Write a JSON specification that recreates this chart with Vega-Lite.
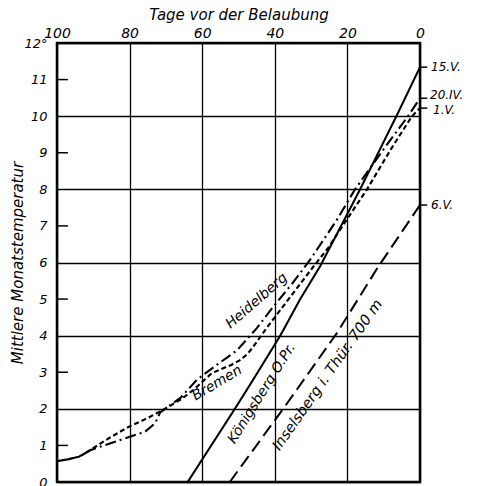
{
  "$schema": "https://vega.github.io/schema/vega-lite/v6.json",
  "width": 363,
  "height": 439,
  "autosize": {"type": "none"},
  "padding": {"left": 57, "top": 43, "right": 59, "bottom": 4},
  "background": "white",
  "config": {
    "view": {"stroke": "black", "strokeWidth": 2.5},
    "font": "DejaVu Sans",
    "axis": {"labelOverlap": false, "labelFlush": false},
    "text": {"font": "DejaVu Sans", "fontStyle": "italic", "color": "black"}
  },
  "datasets": {
    "curves": [
      {"series": "shared", "day": 100, "temp": 0.57},
      {"series": "shared", "day": 97, "temp": 0.62},
      {"series": "shared", "day": 94, "temp": 0.69},
      {"series": "shared", "day": 92, "temp": 0.8},
      {"series": "Bremen", "day": 92, "temp": 0.8},
      {"series": "Bremen", "day": 86, "temp": 1.18},
      {"series": "Bremen", "day": 80.4, "temp": 1.5},
      {"series": "Bremen", "day": 75, "temp": 1.75},
      {"series": "Bremen", "day": 70.8, "temp": 1.97},
      {"series": "Bremen", "day": 66, "temp": 2.25},
      {"series": "Bremen", "day": 62.5, "temp": 2.51},
      {"series": "Bremen", "day": 57.3, "temp": 2.98},
      {"series": "Bremen", "day": 52, "temp": 3.2},
      {"series": "Bremen", "day": 49.6, "temp": 3.33},
      {"series": "Bremen", "day": 47.5, "temp": 3.5},
      {"series": "Bremen", "day": 46, "temp": 3.69},
      {"series": "Bremen", "day": 42.1, "temp": 4.23},
      {"series": "Bremen", "day": 35.8, "temp": 5.05},
      {"series": "Bremen", "day": 29.5, "temp": 5.87},
      {"series": "Bremen", "day": 25.3, "temp": 6.4},
      {"series": "Bremen", "day": 22, "temp": 6.9},
      {"series": "Bremen", "day": 14.6, "temp": 8},
      {"series": "Bremen", "day": 8, "temp": 9.1},
      {"series": "Bremen", "day": 2.2, "temp": 10},
      {"series": "Bremen", "day": 0, "temp": 10.22},
      {"series": "Heidelberg", "day": 92, "temp": 0.8},
      {"series": "Heidelberg", "day": 90.9, "temp": 0.87},
      {"series": "Heidelberg", "day": 83.5, "temp": 1.12},
      {"series": "Heidelberg", "day": 75.8, "temp": 1.37},
      {"series": "Heidelberg", "day": 73, "temp": 1.6},
      {"series": "Heidelberg", "day": 71.6, "temp": 1.9},
      {"series": "Heidelberg", "day": 66, "temp": 2.3},
      {"series": "Heidelberg", "day": 61.4, "temp": 2.8},
      {"series": "Heidelberg", "day": 56, "temp": 3.2},
      {"series": "Heidelberg", "day": 50.4, "temp": 3.6},
      {"series": "Heidelberg", "day": 45, "temp": 4.2},
      {"series": "Heidelberg", "day": 40.5, "temp": 4.78},
      {"series": "Heidelberg", "day": 35, "temp": 5.45},
      {"series": "Heidelberg", "day": 30.3, "temp": 6.07},
      {"series": "Heidelberg", "day": 23, "temp": 7.15},
      {"series": "Heidelberg", "day": 17.9, "temp": 8},
      {"series": "Heidelberg", "day": 10, "temp": 9.1},
      {"series": "Heidelberg", "day": 3.3, "temp": 10},
      {"series": "Heidelberg", "day": 0, "temp": 10.49},
      {"series": "Königsberg", "day": 64, "temp": 0},
      {"series": "Königsberg", "day": 57.5, "temp": 1},
      {"series": "Königsberg", "day": 51, "temp": 2},
      {"series": "Königsberg", "day": 46, "temp": 2.79},
      {"series": "Königsberg", "day": 38.5, "temp": 4},
      {"series": "Königsberg", "day": 33, "temp": 5},
      {"series": "Königsberg", "day": 27.5, "temp": 5.9},
      {"series": "Königsberg", "day": 22, "temp": 6.95},
      {"series": "Königsberg", "day": 16.5, "temp": 8},
      {"series": "Königsberg", "day": 6.5, "temp": 10},
      {"series": "Königsberg", "day": 0, "temp": 11.34},
      {"series": "Inselsberg", "day": 52.4, "temp": 0},
      {"series": "Inselsberg", "day": 37.7, "temp": 2},
      {"series": "Inselsberg", "day": 22.9, "temp": 4.07},
      {"series": "Inselsberg", "day": 11.6, "temp": 5.87},
      {"series": "Inselsberg", "day": 0, "temp": 7.57}
    ],
    "dates": [
      {"day": 0, "temp": 11.34, "date": "15.V."},
      {"day": 0, "temp": 10.49, "date": "20.IV."},
      {"day": 0, "temp": 10.22, "date": "1.V."},
      {"day": 0, "temp": 7.57, "date": "6.V."}
    ],
    "oddTicks": [
      {"temp": 1}, {"temp": 3}, {"temp": 5}, {"temp": 7}, {"temp": 9}, {"temp": 11}
    ]
  },
  "layer": [
    {
      "data": {"name": "curves"},
      "mark": {"type": "line", "color": "black", "strokeCap": "butt", "clip": true},
      "encoding": {
        "x": {
          "field": "day",
          "type": "quantitative",
          "scale": {"domain": [100, 0], "nice": false, "zero": false},
          "axis": {
            "orient": "top",
            "values": [100, 80, 60, 40, 20, 0],
            "tickCount": 20,
            "format": "d",
            "grid": true,
            "gridColor": "black",
            "gridOpacity": 1,
            "gridWidth": 1.3,
            "ticks": false,
            "domain": false,
            "labelFlush": false,
            "labelOverlap": false,
            "labelFont": "DejaVu Sans",
            "labelFontStyle": "italic",
            "labelFontSize": 14,
            "labelColor": "black",
            "labelPadding": 3,
            "title": "Tage vor der Belaubung",
            "titleFont": "DejaVu Sans",
            "titleFontStyle": "italic",
            "titleFontWeight": "normal",
            "titleFontSize": 15,
            "titleColor": "black",
            "titlePadding": 4
          }
        },
        "y": {
          "field": "temp",
          "type": "quantitative",
          "scale": {"domain": [0, 12], "nice": false},
          "axis": {
            "values": [0, 1, 2, 3, 4, 5, 6, 7, 8, 9, 10, 11, 12],
            "tickCount": 20,
            "format": "d",
            "grid": true,
            "gridColor": "black",
            "gridWidth": 1.3,
            "gridOpacity": {"condition": {"test": "datum.value % 2 === 1", "value": 0}, "value": 1},
            "ticks": false,
            "domain": false,
            "labelFlush": false,
            "labelOverlap": false,
            "labelExpr": "datum.value == 12 ? '12°' : datum.label",
            "labelFont": "DejaVu Sans",
            "labelFontStyle": "italic",
            "labelFontSize": 13,
            "labelColor": "black",
            "labelPadding": 10,
            "title": "Mittlere Monatstemperatur",
            "titleFont": "DejaVu Sans",
            "titleFontStyle": "italic",
            "titleFontWeight": "normal",
            "titleFontSize": 15,
            "titleColor": "black",
            "titlePadding": -2
          }
        },
        "strokeDash": {
          "field": "series",
          "type": "nominal",
          "scale": {
            "domain": ["shared", "Bremen", "Heidelberg", "Königsberg", "Inselsberg"],
            "range": [[1, 0], [5, 3], [11, 4, 2, 4], [1, 0], [13, 6]]
          },
          "legend": null
        },
        "strokeWidth": {
          "field": "series",
          "type": "nominal",
          "scale": {
            "domain": ["shared", "Bremen", "Heidelberg", "Königsberg", "Inselsberg"],
            "range": [2.2, 2, 2, 2.8, 2]
          },
          "legend": null
        }
      }
    },
    {
      "data": {"name": "oddTicks"},
      "mark": {"type": "rule", "color": "black", "strokeWidth": 1.5},
      "encoding": {
        "x": {"datum": 100, "type": "quantitative"},
        "x2": {"datum": 97},
        "y": {"field": "temp", "type": "quantitative"}
      }
    },
    {
      "data": {"name": "dates"},
      "mark": {"type": "rule", "color": "black", "strokeWidth": 1.5},
      "encoding": {
        "x": {"field": "day", "type": "quantitative"},
        "x2": {"datum": -2},
        "y": {"field": "temp", "type": "quantitative"}
      }
    },
    {
      "data": {"name": "dates"},
      "transform": [{"filter": "datum.date == '15.V.' || datum.date == '6.V.'"}],
      "mark": {"type": "text", "align": "left", "baseline": "middle", "dx": 11, "fontSize": 12},
      "encoding": {
        "x": {"field": "day", "type": "quantitative"},
        "y": {"field": "temp", "type": "quantitative"},
        "text": {"field": "date"}
      }
    },
    {
      "data": {"name": "dates"},
      "transform": [{"filter": "datum.date == '20.IV.'"}],
      "mark": {"type": "text", "align": "left", "baseline": "middle", "dx": 10, "dy": -3, "fontSize": 12},
      "encoding": {
        "x": {"field": "day", "type": "quantitative"},
        "y": {"field": "temp", "type": "quantitative"},
        "text": {"field": "date"}
      }
    },
    {
      "data": {"name": "dates"},
      "transform": [{"filter": "datum.date == '1.V.'"}],
      "mark": {"type": "text", "align": "left", "baseline": "middle", "dx": 13, "dy": 2, "fontSize": 12},
      "encoding": {
        "x": {"field": "day", "type": "quantitative"},
        "y": {"field": "temp", "type": "quantitative"},
        "text": {"field": "date"}
      }
    },
    {
      "data": {"values": [{"day": 45, "temp": 4.95, "name": "Heidelberg"}]},
      "mark": {"type": "text", "angle": -41, "align": "center", "baseline": "middle", "fontSize": 14},
      "encoding": {
        "x": {"field": "day", "type": "quantitative"},
        "y": {"field": "temp", "type": "quantitative"},
        "text": {"field": "name"}
      }
    },
    {
      "data": {"values": [{"day": 55.9, "temp": 2.7, "name": "Bremen"}]},
      "mark": {"type": "text", "angle": -31, "align": "center", "baseline": "middle", "fontSize": 14},
      "encoding": {
        "x": {"field": "day", "type": "quantitative"},
        "y": {"field": "temp", "type": "quantitative"},
        "text": {"field": "name"}
      }
    },
    {
      "data": {"values": [{"day": 43.6, "temp": 2.42, "name": "Königsberg O.Pr."}]},
      "mark": {"type": "text", "angle": -58, "align": "center", "baseline": "middle", "fontSize": 14},
      "encoding": {
        "x": {"field": "day", "type": "quantitative"},
        "y": {"field": "temp", "type": "quantitative"},
        "text": {"field": "name"}
      }
    },
    {
      "data": {"values": [{"day": 25.4, "temp": 2.92, "name": "Inselsberg i. Thür. 700 m"}]},
      "mark": {"type": "text", "angle": -55, "align": "center", "baseline": "middle", "fontSize": 14.5},
      "encoding": {
        "x": {"field": "day", "type": "quantitative"},
        "y": {"field": "temp", "type": "quantitative"},
        "text": {"field": "name"}
      }
    }
  ]
}
